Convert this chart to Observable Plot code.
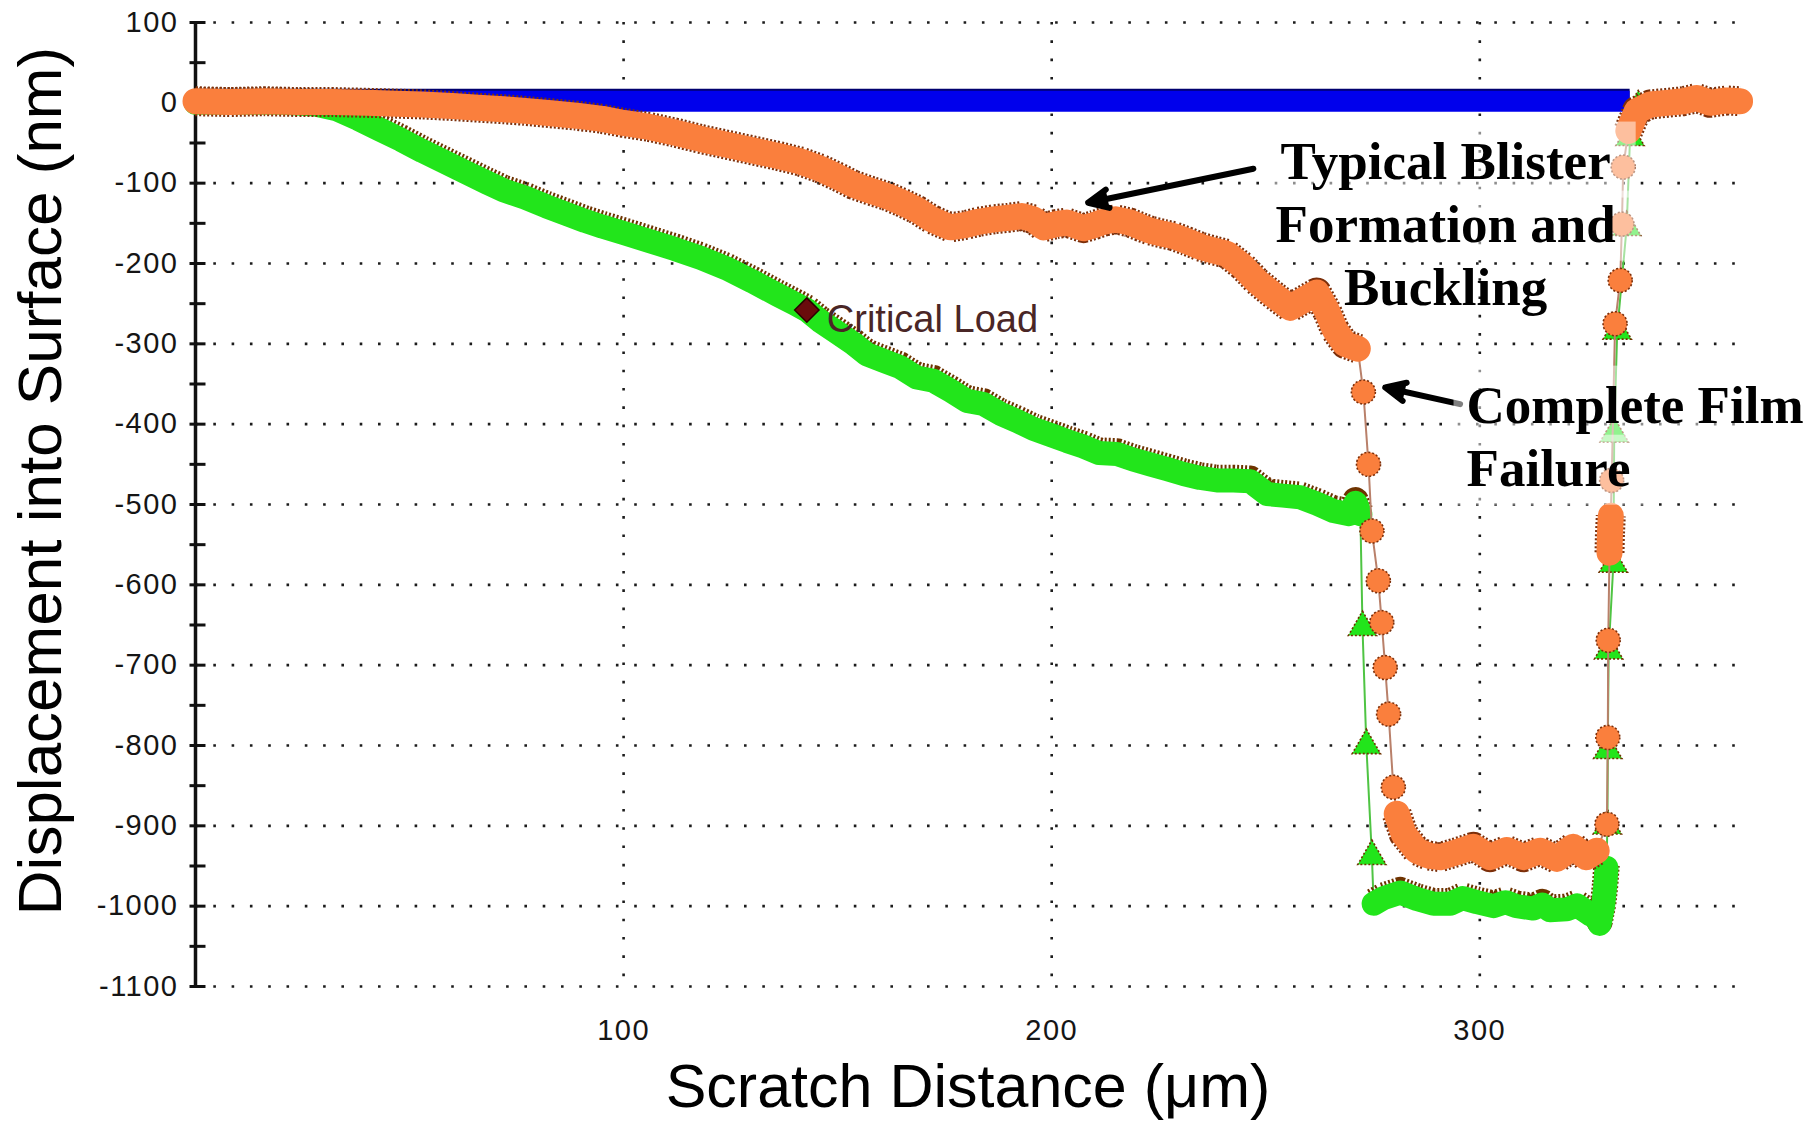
<!DOCTYPE html>
<html>
<head>
<meta charset="utf-8">
<script src="https://cdn.jsdelivr.net/npm/d3@7"></script>
<script src="https://cdn.jsdelivr.net/npm/@observablehq/plot@0.6"></script>
<style>
  html, body { margin: 0; padding: 0; background: #fff; }
  #chart { width: 1817px; height: 1123px; }
</style>
</head>
<body>
<div id="chart"></div>
<script>
// ---- Scratch test data (distance in µm, displacement in nm) ----

// Pre-scan profile of the original surface
const preScanX = [0, 50, 100, 150, 200, 250, 300, 335];
const preScanY = [2, 2, 2, 2, 2, 2, 2, 2];

// Displacement while scratching under ramped load
const scratchX = [
  0, 10, 20, 28, 33, 38, 43, 48, 53, 58,
  63, 68, 72, 77, 82, 87, 91, 95, 100, 106,
  112, 118, 124, 130, 136, 140, 142.8, 146, 149.4, 153.8,
  156.8, 160.7, 164.6, 168.5, 172.4, 176.3, 180.2, 184.1, 188, 191.9,
  195.8, 200, 203.6, 207.5, 211, 215.2, 219, 223, 227, 230.8,
  234.7, 238.6, 242.5, 246.4, 250.3, 254, 258, 262, 265.8, 269.5,
  271, 272.1, 272.6, 273.5, 274.8, 275.2, 277.5, 281.4, 285.3, 289.2,
  293.1, 296, 299.3, 303.2, 306, 308.6, 312.5, 314.6, 316.4, 320.3,
  322.7, 325.8, 327.3, 328, 328.8, 329.3, 329.6, 329.8, 329.9, 330.1,
  331.2, 331.4, 332.1, 334.3, 335.1, 337
];
const scratchY = [
  0, 0, 0, -2, -8, -20, -33, -46, -60, -73,
  -86, -99, -109, -118, -129, -139, -147, -154, -162, -172,
  -182, -193, -206, -222, -239, -250, -258, -272, -284, -300,
  -313, -321, -329, -342, -346, -358, -371, -375, -387, -396,
  -406, -414, -421, -428, -436, -437, -444, -450, -456, -462,
  -467, -470, -470, -471, -487, -489, -491, -499, -508, -512,
  -498, -512, -653, -800, -938, -997, -990, -983, -991, -997,
  -997, -990, -995, -1000, -995, -1000, -1003, -998, -1005, -1004,
  -999, -1010, -1014, -1022, -1000, -975, -952, -900, -806, -682,
  -574, -412, -284, -155, -43, -5
];

// Residual post-scan profile
const residualX = [
  0, 8, 16, 24, 32, 40, 47, 53, 60, 66,
  72, 77, 83, 89, 95, 100, 106, 112, 118, 124,
  130, 136, 141.3, 146, 150, 153.7, 158, 161.5, 165, 168.5,
  172, 176.3, 180, 183, 186.4, 190, 193, 195.7, 198.1, 201,
  203.5, 207.4, 210, 212.1, 215, 218.3, 221, 223, 226, 228.5,
  231.5, 234.7, 238, 240.9, 244.5, 247.9, 252, 255.7, 259, 261.9,
  264.3, 266.2, 268.5, 271.5, 272.8, 274, 274.8, 276.3, 277.1, 277.9,
  278.7, 279.8, 280.6, 282.2, 285.3, 288, 290.7, 294.5, 298.5, 302.4,
  306.3, 310.2, 314.1, 318, 321.8, 324.9, 327.3, 329.7, 329.9, 330,
  330.3, 330.4, 330.6, 330.8, 331.6, 332.8, 333.2, 333.5, 334.7, 336.7,
  339.8, 343.7, 347.5, 350.7, 353.8, 357.7, 360.8
];
const residualY = [
  2, 1, 2, 1, 1, 0, -1, -2, -4, -6,
  -8, -10, -13, -16, -20, -25, -30, -37, -45, -52,
  -59, -66, -73, -82, -92, -102, -110, -116, -124, -133,
  -145, -155, -152, -148, -145, -143, -141, -145, -155, -151,
  -149, -156, -152, -148, -145, -149, -155, -159, -163, -166,
  -172, -179, -184, -188, -203, -222, -240, -255, -245, -236,
  -259, -283, -300, -306, -360, -450, -533, -595, -647, -703,
  -761, -852, -885, -910, -931, -937, -939, -933, -926, -939,
  -930, -939, -931, -941, -926, -939, -931, -898, -790, -669,
  -560, -537, -514, -470, -275, -221, -151, -80, -35, -10,
  -2, 0, 2, 6, 0, 3, 2
];

// Critical load event on the scratch trace
const criticalX = [142.8];
const criticalY = [-258];
const criticalLabel = ["Critical Load"];

// Axis ticks and extents
const xTicks = [100, 200, 300];
const yTicks = d3.range(-1100, 101, 100);
const yMinorTicks = d3.range(-1100, 101, 50);
const xDomain = [0, 363];
const yDomain = [-1100, 100];

// ---- Annotations (anchored in data units) ----
// "backed" = how many leading lines get a translucent backing
const blisterNote = [{text: "Typical Blister\nFormation and\nBuckling", x: 292, y: -251.3, backed: 2}];
const failureNote = [{text: "Complete Film\nFailure", x: 296.9, y: -476.6, backed: 2}];
const pointers = [
  {x1: 247.1, y1: -82, x2: 208.5, y2: -124.4},
  {x1: 295.4, y1: -375, x2: 277.9, y2: -354.3}
];

// ---- Helpers ----
// Split a trace into dense runs (drawn as a thick band) and isolated samples (drawn as markers)
function toTrace(xs, ys, joinLimit) {
  const pts = xs.map((x, i) => ({x, y: ys[i]}));
  let seg = 0;
  pts.forEach((p, i) => {
    if (i > 0 && Math.abs(p.y - pts[i - 1].y) >= joinLimit) seg++;
    p.seg = seg;
  });
  const counts = d3.rollup(pts, v => v.length, p => p.seg);
  pts.forEach(p => { p.solo = counts.get(p.seg) === 1; });
  return pts;
}

function traceMarks(pts, o) {
  const band = pts.filter(p => !p.solo);
  const solo = pts.filter(p => p.solo);
  return [
    Plot.line(pts, {x: "x", y: "y", stroke: o.thin, strokeWidth: 2}),
    Plot.line(band, {x: "x", y: "y", z: "seg", stroke: o.edge, strokeWidth: o.width + o.edgeExtra,
      strokeDasharray: "2,2", strokeLinecap: "butt", strokeLinejoin: "round", dy: o.edgeDy}),
    Plot.line(band, {x: "x", y: "y", z: "seg", stroke: o.color, strokeWidth: o.width,
      strokeLinecap: "round", strokeLinejoin: "round"}),
    Plot.dot(solo, {x: "x", y: "y", symbol: o.symbol, r: o.r, fill: o.color, stroke: o.edge,
      strokeWidth: 1.6, strokeDasharray: "2,2"})
  ];
}

const preScan = preScanX.map((x, i) => ({x, y: preScanY[i]}));
const scratch = toTrace(scratchX, scratchY, 30);
const residual = toTrace(residualX, residualY, 30);
const critical = criticalX.map((x, i) => ({x, y: criticalY[i], label: criticalLabel[i]}));

// Short horizontal tick crossing the y axis line
const crossTick = {
  draw(context) { context.moveTo(-6, 0); context.lineTo(10, 0); }
};

const tickFont = "'Liberation Sans', Arial, sans-serif";
const noteFont = "'Liberation Serif', 'Times New Roman', serif";
const plainNumber = d => String(d);

const noteStyle = {x: "x", y: "y", text: "text", lineAnchor: "bottom", lineHeight: 1.19,
  fontSize: 53, fontWeight: "bold", fontFamily: noteFont, fill: "#000"};

const chart = Plot.plot({
  width: 1817,
  height: 1123,
  marginLeft: 195,
  marginRight: 68,
  marginTop: 22,
  marginBottom: 137,
  x: {domain: xDomain, axis: null},
  y: {domain: yDomain, axis: null},
  style: {background: "#fff", color: "#151515", fontFamily: tickFont, fontSize: "29px"},
  marks: [
    Plot.gridY(yTicks, {stroke: "#1c1c1c", strokeOpacity: 1, strokeWidth: 2.6, strokeDasharray: "2.6,15.7"}),
    Plot.gridX(xTicks, {stroke: "#1c1c1c", strokeOpacity: 1, strokeWidth: 2.6, strokeDasharray: "2.6,15.7"}),
    Plot.ruleX([0], {y1: yDomain[0], y2: yDomain[1], stroke: "#111", strokeWidth: 3.5}),
    Plot.dot(yMinorTicks, {x: () => 0, y: d => d, symbol: crossTick, fill: "none", stroke: "#111", strokeWidth: 3}),
    Plot.axisY(yTicks, {tickSize: 0, tickPadding: 17, fontSize: 29, fontFamily: tickFont, label: null,
      tickFormat: plainNumber}),
    Plot.axisX(xTicks, {tickSize: 0, tickPadding: 33, fontSize: 29, fontFamily: tickFont, label: null,
      tickFormat: plainNumber}),

    // pre-scan surface
    Plot.line(preScan, {x: "x", y: "y", stroke: "#00006e", strokeWidth: 22, dy: -1.5, strokeLinecap: "butt"}),
    Plot.line(preScan, {x: "x", y: "y", stroke: "#0000ec", strokeWidth: 21, strokeLinecap: "butt"}),

    // scratch (loaded) trace
    ...traceMarks(scratch, {color: "#22e51b", edge: "#6e3300", thin: "#4fc443", width: 24, edgeExtra: 2.5,
      edgeDy: -2.5, symbol: "triangle", r: 10.5}),

    // residual trace
    ...traceMarks(residual, {color: "#fa7f3d", edge: "#7c2f0a", thin: "#b9806a", width: 26, edgeExtra: 4,
      edgeDy: 0, symbol: "circle", r: 12}),

    // critical load event
    Plot.dot(critical, {x: "x", y: "y", symbol: "diamond2", r: 11, fill: "#6a0c0c", stroke: "#2a0000", strokeWidth: 1.5}),
    Plot.text(critical, {x: "x", y: "y", text: "label", dx: 20, dy: 10, textAnchor: "start",
      fontSize: 38, fontFamily: tickFont, fill: "#4a2626"}),

    // callouts
    Plot.arrow(pointers, {x1: "x1", y1: "y1", x2: "x2", y2: "y2", stroke: "#000", fill: "#000",
      strokeWidth: 6, headLength: 5.5, headAngle: 50}),
    Plot.text(blisterNote, {...noteStyle, textAnchor: "middle"}),
    Plot.text(failureNote, {...noteStyle, textAnchor: "start"})
  ]
});

document.getElementById("chart").appendChild(chart);

const svg = d3.select(chart);

// slightly wider spacing on the tick labels
svg.selectAll('[aria-label="y-axis tick label"] text, [aria-label="x-axis tick label"] text')
  .attr("letter-spacing", "1.5px");

// translucent backing behind the callout lines
const origin = chart.getBoundingClientRect();
const noteByText = new Map([...blisterNote, ...failureNote].map(d => [d.text.replace(/\n/g, ""), d]));
svg.selectAll("text")
  .filter(function() { return noteByText.has(this.textContent.replace(/\n/g, "")); })
  .each(function() {
    const text = this;
    const note = noteByText.get(text.textContent.replace(/\n/g, ""));
    const group = text.parentNode;
    const backing = d3.select(group.parentNode).insert("g", () => group);
    const spans = text.querySelectorAll("tspan");
    const parts = (spans.length ? Array.from(spans) : [text]).slice(0, note.backed);
    parts.forEach((part, i) => {
      const b = part.getBoundingClientRect();
      const top = i === 0 ? 10 : 4;
      backing.append("rect")
        .attr("x", b.left - origin.left - 13)
        .attr("y", b.top - origin.top - top)
        .attr("width", b.width + 38)
        .attr("height", b.height + top + 8)
        .attr("fill", "#fff").attr("fill-opacity", 0.5);
    });
  });

// axis titles
svg.append("text")
  .attr("x", 968).attr("y", 1107)
  .attr("text-anchor", "middle")
  .attr("font-family", tickFont).attr("font-size", 61).attr("fill", "#000")
  .text("Scratch Distance (μm)");

svg.append("text")
  .attr("transform", "translate(61,481) rotate(-90)")
  .attr("text-anchor", "middle")
  .attr("font-family", tickFont).attr("font-size", 62).attr("fill", "#000")
  .text("Displacement into Surface (nm)");
</script>
</body>
</html>
